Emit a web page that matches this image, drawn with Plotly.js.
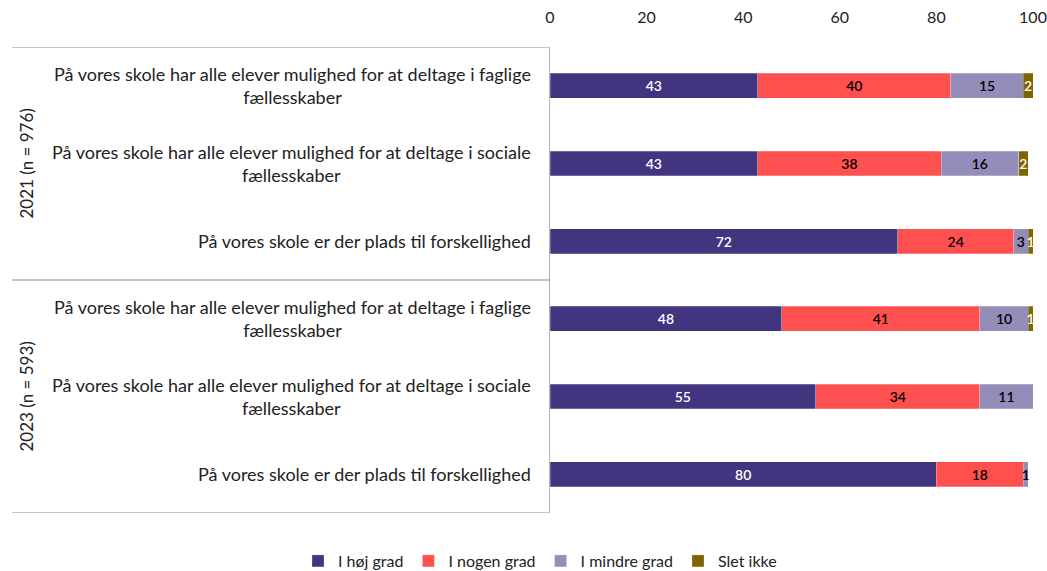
<!DOCTYPE html>
<html>
<head>
<meta charset="utf-8">
<script src="https://cdn.plot.ly/plotly-3.0.1.min.js"></script>
<style>
  html, body { margin: 0; padding: 0; background: #fff; }
  #chart { width: 1047px; height: 571px; }
</style>
</head>
<body>
<div id="chart"></div>
<script>
// ---- Data ----
const categories = [
  "På vores skole har alle elever mulighed for at deltage i faglige<br>fællesskaber",
  "På vores skole har alle elever mulighed for at deltage i sociale<br>fællesskaber",
  "På vores skole er der plads til forskellighed"
];
const groups = ["2021 (n = 976)", "2023 (n = 593)"];
const seriesNames = ["I høj grad", "I nogen grad", "I mindre grad", "Slet ikke"];
const hoejGrad   = [43, 43, 72, 48, 55, 80];
const nogenGrad  = [40, 38, 24, 41, 34, 18];
const mindreGrad = [15, 16, 3, 10, 11, 1];
const sletIkke   = [2, 2, 1, 1, 0, 0];
const xTicks = [0, 20, 40, 60, 80, 100];

// ---- Styling ----
const colors = ["#42347F", "#FF5050", "#958DB9", "#7F6400"];
const textColors = ["#ffffff", "#000000", "#000000", "#ffffff"];
const FONT = "Lato, 'Source Sans Pro', 'Noto Sans', sans-serif";

const rowLabels = [];
const rowGroup = [];
groups.forEach((g, gi) => categories.forEach(c => { rowLabels.push(c); rowGroup.push(gi); }));
const yPos = rowLabels.map((_, i) => i);

const seriesValues = [hoejGrad, nogenGrad, mindreGrad, sletIkke];
const traces = seriesValues.map((vals, si) => ({
  type: "bar",
  orientation: "h",
  name: seriesNames[si],
  x: vals,
  y: yPos,
  text: vals.map(v => v > 0 ? String(v) : ""),
  textposition: "inside",
  insidetextanchor: "middle",
  textangle: 0,
  textfont: { family: FONT, size: 14, color: textColors[si], weight: 600 },
  marker: { color: colors[si], line: { color: "rgba(255,255,255,0.5)", width: 0.5 } },
  hoverinfo: "x+name"
}));

const annotations = [];
rowLabels.forEach((lbl, i) => {
  annotations.push({
    xref: "paper", yref: "y", x: 0, y: i,
    xanchor: "right", yanchor: "middle", xshift: -17,
    align: "center", showarrow: false,
    text: lbl,
    font: { family: FONT, size: 18, color: "#222" }
  });
});
groups.forEach((g, gi) => {
  const rows = yPos.filter(i => rowGroup[i] === gi);
  const mid = (rows[0] + rows[rows.length - 1]) / 2;
  annotations.push({
    xref: "paper", yref: "y", x: 0, y: mid,
    xanchor: "center", yanchor: "middle", xshift: -524,
    textangle: -90, showarrow: false,
    text: g,
    font: { family: FONT, size: 17, color: "#222" }
  });
});

const plotW = 1047 - 550 - 14;
const plotH = 571 - 47 - 58;
const sepX0 = -(550 - 12) / plotW;
const shapes = [];
const boundaries = [-0.5];
groups.forEach((g, gi) => boundaries.push(categories.length * (gi + 1) - 0.5));
boundaries.forEach(b => shapes.push({
  type: "line", xref: "paper", yref: "y",
  x0: sepX0, x1: 0, y0: b, y1: b,
  line: { color: "#b3b3b3", width: 1.5 }
}));

const layout = {
  width: 1047, height: 571,
  margin: { l: 550, r: 14, t: 47, b: 58, autoexpand: false },
  paper_bgcolor: "#fff", plot_bgcolor: "#fff",
  font: { family: FONT, size: 16, color: "#222" },
  barmode: "stack",
  bargap: 0.68,
  uniformtext: { mode: "show", minsize: 14 },
  xaxis: {
    side: "top", range: [0, 100], tickvals: xTicks, ticktext: xTicks.map(String),
    showgrid: false, zeroline: false, showline: false,
    ticks: "outside", ticklen: 17, tickcolor: "rgba(0,0,0,0)",
    tickfont: { family: FONT, size: 16, color: "#222" }, fixedrange: true
  },
  yaxis: {
    range: [categories.length * groups.length - 0.5, -0.5],
    showticklabels: false, showgrid: false, zeroline: false,
    showline: true, linecolor: "#b3b3b3", linewidth: 1.5, ticks: "", fixedrange: true
  },
  showlegend: true,
  legend: {
    orientation: "h", x: -10 / plotW, xanchor: "center", y: -48 / plotH, yanchor: "middle",
    font: { family: FONT, size: 16, color: "#222" }, traceorder: "normal",
    itemwidth: 30
  },
  annotations: annotations,
  shapes: shapes
};

Plotly.newPlot("chart", traces, layout, { displayModeBar: false, staticPlot: true });
</script>
</body>
</html>
